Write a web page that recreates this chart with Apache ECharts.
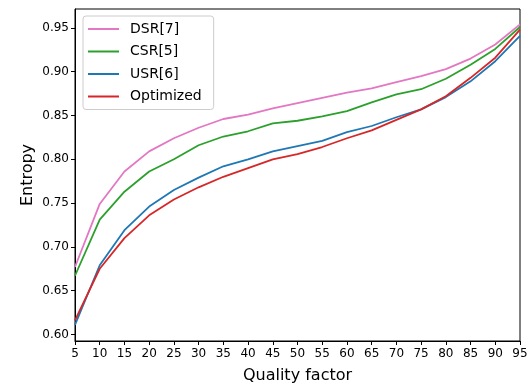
<!DOCTYPE html>
<html>
<head>
<meta charset="utf-8">
<script src="https://cdn.jsdelivr.net/npm/echarts@6/dist/echarts.min.js"></script>
<style>
html,body{margin:0;padding:0;background:#fff;}
#main{width:532px;height:385px;}
</style>
</head>
<body>
<div id="main"></div>
<script>
var quality = [5,10,15,20,25,30,35,40,45,50,55,60,65,70,75,80,85,90,95];
var dsr = [0.677,0.749,0.786,0.809,0.824,0.836,0.846,0.851,0.858,0.864,0.870,0.876,0.881,0.888,0.895,0.903,0.915,0.931,0.954];
var csr = [0.667,0.731,0.763,0.786,0.800,0.816,0.826,0.832,0.841,0.844,0.849,0.855,0.865,0.874,0.880,0.892,0.908,0.926,0.951];
var usr = [0.611,0.679,0.719,0.746,0.765,0.779,0.792,0.800,0.809,0.815,0.821,0.831,0.838,0.848,0.857,0.871,0.889,0.912,0.941];
var opt = [0.616,0.675,0.710,0.736,0.754,0.768,0.780,0.790,0.800,0.806,0.814,0.824,0.833,0.845,0.857,0.872,0.893,0.916,0.948];
var yTicks = [0.60,0.65,0.70,0.75,0.80,0.85,0.90,0.95];

var dom = document.getElementById("main");
var myChart = echarts.init(dom);

function pairs(arr){
	var out = [];
	for (var i = 0; i < quality.length; i++) {
		out.push([quality[i], arr[i]]);
	}
	return out;
}

var names = ['DSR[7]','CSR[5]','USR[6]','Optimized'];
var colors = ['#e377c2','#2ca02c','#1f77b4','#d62728'];
var datas = [dsr, csr, usr, opt];
var seriesval = [];
for (var i = 0; i < names.length; i++) {
	seriesval.push({
		name: names[i],
		type: 'line',
		symbol: 'none',
		data: pairs(datas[i]),
		lineStyle: {color: colors[i], width: 1.8},
		itemStyle: {color: colors[i]}
	});
}

var font = 'DejaVu Sans';
var option = {
	animation: false,
	textStyle: {fontFamily: font},
	grid: {
		left: 75, right: 12, top: 9, bottom: 44,
		outerBoundsMode: 'none',
		containLabel: false,
		show: true, borderColor: '#000', borderWidth: 1
	},
	legend: {
		data: names,
		orient: 'vertical',
		left: 83, top: 16,
		icon: 'rect',
		itemWidth: 31, itemHeight: 2,
		itemGap: 8.5,
		padding: [6, 12, 6, 5],
		borderColor: '#cccccc', borderWidth: 1, borderRadius: 3,
		backgroundColor: 'rgba(255,255,255,0.8)',
		textStyle: {fontSize: 14, color: '#000', fontFamily: font, padding: [0, 0, 0, 6]}
	},
	xAxis: {
		type: 'value',
		min: 5, max: 95, interval: 5,
		name: 'Quality factor',
		nameLocation: 'middle',
		nameGap: 27,
		nameMoveOverlap: false,
		nameTextStyle: {fontSize: 16, color: '#000', fontFamily: font},
		axisLine: {lineStyle: {color: '#000'}},
		axisTick: {show: true, length: 4, lineStyle: {color: '#000'}},
		axisLabel: {fontSize: 12, color: '#000', margin: 7, fontFamily: font},
		splitLine: {show: false}
	},
	yAxis: {
		type: 'value',
		min: 0.5925, max: 0.9716,
		name: 'Entropy',
		nameLocation: 'middle',
		nameGap: 39,
		nameMoveOverlap: false,
		nameTextStyle: {fontSize: 16, color: '#000', fontFamily: font},
		axisLine: {show: true, lineStyle: {color: '#000'}},
		axisTick: {show: true, length: 4, lineStyle: {color: '#000'}, customValues: yTicks},
		axisLabel: {
			fontSize: 12, color: '#000', margin: 6, fontFamily: font,
			customValues: yTicks,
			formatter: function (v) { return v.toFixed(2); }
		},
		splitLine: {show: false}
	},
	series: seriesval
};
myChart.setOption(option, true);
</script>
</body>
</html>
